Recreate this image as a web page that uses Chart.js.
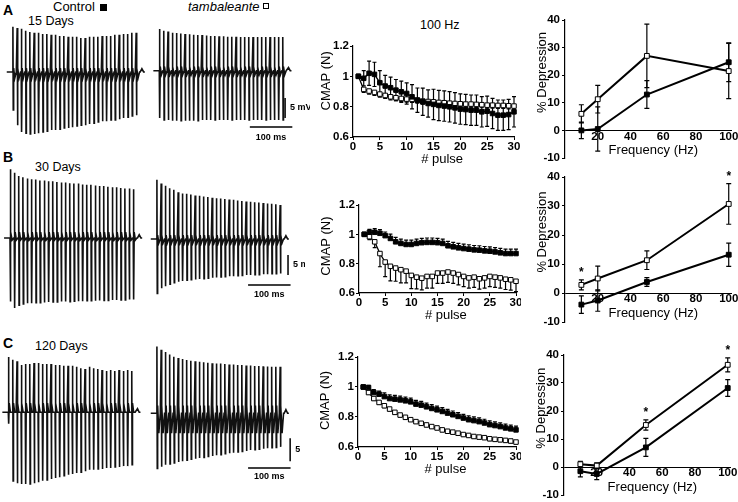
<!DOCTYPE html>
<html>
<head>
<meta charset="utf-8">
<script src="https://cdn.jsdelivr.net/npm/chart.js@4.4.1/dist/chart.umd.min.js"></script>
<style>
  body { margin: 0; background: #fff; }
  #fig { position: relative; width: 738px; height: 502px; overflow: hidden; background: #fff;
         font-family: "Liberation Sans", Arial, sans-serif; color: #000; }
  #fig canvas { position: absolute; }
  .lbl { position: absolute; white-space: nowrap; line-height: 1; }
  .panel { font-size: 14px; font-weight: bold; }
  .head { font-size: 13px; }
  .sub { font-size: 12.5px; }
  .sq { position: absolute; width: 7px; height: 7px; background: #000; }
  .sq.open { background: #fff; border: 1px solid #000; width: 4px; height: 4px; }
</style>
</head>
<body>
<div id="fig">
  <div class="lbl panel" style="left:3px;top:3px">A</div>
  <div class="lbl panel" style="left:3px;top:150px">B</div>
  <div class="lbl panel" style="left:3px;top:336px">C</div>
  <div class="lbl head" style="left:53px;top:0px">Control</div>
  <div class="sq" style="left:100px;top:4px"></div>
  <div class="lbl head" style="left:188px;top:0px;font-style:italic">tambaleante</div>
  <div class="sq open" style="left:263px;top:3px"></div>
  <div class="lbl sub" style="left:28px;top:15px">15 Days</div>
  <div class="lbl sub" style="left:35px;top:161px">30 Days</div>
  <div class="lbl sub" style="left:35px;top:340px">120 Days</div>
  <div class="lbl sub" style="left:420px;top:19px">100 Hz</div>
</div>
<script>
'use strict';

// ---- data ----
var pulses = [1, 2, 3, 4, 5, 6, 7, 8, 9, 10, 11, 12, 13, 14, 15, 16, 17, 18, 19, 20, 21, 22, 23, 24, 25, 26, 27, 28, 29, 30];
var pulseTicks = [0, 5, 10, 15, 20, 25, 30];
var cmapTicks = [0.6, 0.8, 1, 1.2];
var freqs = [10, 20, 50, 100];
var freqTicks = [20, 40, 60, 80, 100];
var depTicks = [-10, 0, 10, 20, 30, 40];

// CMAP (normalised) at 100 Hz
var cmapCtrlA = [1.0, 0.987, 1.02, 1.013, 0.958, 0.936, 0.925, 0.909, 0.898, 0.887, 0.865, 0.843, 0.832, 0.821, 0.815, 0.808, 0.804, 0.799, 0.792, 0.784, 0.781, 0.777, 0.777, 0.766, 0.770, 0.755, 0.744, 0.744, 0.748, 0.766];
var cmapTambA = [1.0, 0.914, 0.903, 0.894, 0.883, 0.874, 0.865, 0.859, 0.854, 0.850, 0.848, 0.843, 0.837, 0.834, 0.832, 0.828, 0.826, 0.823, 0.821, 0.819, 0.817, 0.817, 0.815, 0.813, 0.810, 0.810, 0.808, 0.808, 0.806, 0.804];
var errCtrlA = [0, 0.05, 0.08, 0.08, 0.08, 0.07, 0.07, 0.07, 0.07, 0.07, 0.08, 0.08, 0.09, 0.09, 0.1, 0.1, 0.1, 0.1, 0.1, 0.1, 0.1, 0.1, 0.1, 0.1, 0.1, 0.1, 0.1, 0.1, 0.1, 0.1];
var errTambA = [0, 0.02, 0.02, 0.02, 0.02, 0.02, 0.02, 0.02, 0.02, 0.02, 0.02, 0.02, 0.02, 0.02, 0.02, 0.02, 0.02, 0.02, 0.02, 0.02, 0.02, 0.02, 0.02, 0.02, 0.02, 0.02, 0.02, 0.02, 0.02, 0.02];

var cmapCtrlB = [1.0, 1.014, 1.014, 1.007, 0.991, 0.972, 0.949, 0.938, 0.931, 0.931, 0.938, 0.943, 0.945, 0.945, 0.943, 0.938, 0.922, 0.915, 0.908, 0.903, 0.899, 0.894, 0.892, 0.887, 0.885, 0.880, 0.874, 0.869, 0.869, 0.869];
var cmapTambB = [1.0, 0.984, 0.949, 0.869, 0.811, 0.782, 0.770, 0.759, 0.749, 0.720, 0.708, 0.701, 0.713, 0.713, 0.736, 0.736, 0.743, 0.736, 0.726, 0.713, 0.703, 0.708, 0.697, 0.703, 0.713, 0.708, 0.703, 0.694, 0.690, 0.680];
var errCtrlB = [0, 0.02, 0.025, 0.025, 0.025, 0.03, 0.03, 0.03, 0.03, 0.03, 0.03, 0.03, 0.03, 0.03, 0.03, 0.03, 0.03, 0.03, 0.03, 0.03, 0.03, 0.03, 0.03, 0.03, 0.03, 0.03, 0.03, 0.03, 0.03, 0.03];
var errTambB = [0, 0.02, 0.04, 0.09, 0.1, 0.1, 0.09, 0.09, 0.08, 0.09, 0.08, 0.08, 0.08, 0.08, 0.07, 0.07, 0.07, 0.07, 0.07, 0.07, 0.07, 0.07, 0.07, 0.07, 0.07, 0.07, 0.07, 0.07, 0.07, 0.07];

var cmapCtrlC = [1.0, 0.996, 0.963, 0.952, 0.936, 0.923, 0.919, 0.914, 0.908, 0.901, 0.886, 0.879, 0.868, 0.857, 0.848, 0.837, 0.826, 0.815, 0.804, 0.793, 0.782, 0.776, 0.769, 0.760, 0.749, 0.743, 0.736, 0.727, 0.721, 0.714];
var cmapTambC = [1.0, 0.963, 0.923, 0.897, 0.875, 0.853, 0.831, 0.813, 0.798, 0.782, 0.769, 0.758, 0.747, 0.736, 0.727, 0.714, 0.705, 0.699, 0.692, 0.683, 0.677, 0.670, 0.666, 0.662, 0.655, 0.651, 0.648, 0.644, 0.640, 0.633];
var errCtrlC = [0, 0.015, 0.02, 0.02, 0.025, 0.025, 0.025, 0.025, 0.025, 0.025, 0.025, 0.025, 0.025, 0.025, 0.025, 0.025, 0.025, 0.025, 0.025, 0.025, 0.025, 0.025, 0.025, 0.025, 0.025, 0.025, 0.025, 0.025, 0.025, 0.025];
var errTambC = [0, 0.01, 0.012, 0.012, 0.012, 0.012, 0.012, 0.012, 0.012, 0.012, 0.012, 0.012, 0.012, 0.012, 0.012, 0.012, 0.012, 0.012, 0.012, 0.012, 0.012, 0.012, 0.012, 0.012, 0.012, 0.012, 0.012, 0.012, 0.012, 0.012];

// % depression vs frequency
var depCtrlA = [0, 0.5, 13, 24.7];
var depTambA = [6, 11.3, 27, 21.5];
var errDepCtrlA = [3, 8, 5, 7];
var errDepTambA = [3.3, 5, 11.5, 10];
var depCtrlB = [-4, -2.6, 3.8, 13.2];
var depTambB = [2.8, 5, 11.3, 30.7];
var errDepCtrlB = [3, 3.7, 1.5, 4];
var errDepTambB = [1.7, 4.3, 3.2, 7];
var depCtrlC = [-1.5, -2.5, 7, 28.2];
var depTambC = [1, 0.5, 15, 36.5];
var errDepCtrlC = [2, 2, 3.2, 3];
var errDepTambC = [1, 1, 1.8, 2.5];
var sigA = [];
var sigB = [10, 100];
var sigC = [50, 100];

// spike trains: peak (mV above baseline) and trough of each of the 30 responses
var topCtrlA = [11.3, 11.0, 10.8, 10.3, 10.0, 9.8, 9.8, 9.5, 9.5, 9.3, 9.3, 9.0, 9.0, 8.8, 8.8, 8.8, 8.5, 8.5, 8.8, 8.8, 8.8, 9.0, 9.0, 9.0, 9.3, 9.3, 9.5, 9.5, 9.8, 9.8];
var botCtrlA = [-9.5, -13.3, -15.0, -15.3, -15.5, -15.5, -15.3, -15.0, -14.8, -14.5, -14.5, -14.3, -14.0, -14.0, -13.8, -13.5, -13.3, -13.3, -13.0, -12.8, -12.5, -12.3, -12.3, -12.0, -12.0, -11.8, -11.5, -11.3, -11.0, -10.8];
var topTambA = [10.4, 10.0, 9.8, 9.5, 9.4, 9.3, 9.2, 9.1, 9.0, 8.9, 8.9, 8.8, 8.7, 8.7, 8.6, 8.6, 8.5, 8.5, 8.5, 8.4, 8.4, 8.4, 8.4, 8.4, 8.4, 8.4, 8.4, 8.4, 8.4, 8.4];
var botTambA = [-11.8, -12.3, -12.3, -12.5, -12.5, -12.5, -12.5, -12.5, -12.5, -12.5, -12.3, -12.3, -12.3, -12.3, -12.3, -12.3, -12.3, -12.3, -12.3, -12.3, -12.3, -12.3, -12.3, -12.3, -12.3, -12.3, -12.3, -12.3, -12.3, -12.3];
var topCtrlB = [17.2, 16.3, 15.5, 15.2, 14.9, 14.7, 14.6, 14.4, 14.4, 14.2, 14.2, 14.0, 13.9, 13.9, 13.7, 13.6, 13.6, 13.4, 13.3, 13.3, 13.1, 13.0, 13.0, 12.8, 12.7, 12.7, 12.5, 12.4, 12.4, 12.2];
var botCtrlB = [-15.9, -17.5, -16.8, -16.5, -16.3, -16.3, -16.2, -16.2, -16.1, -16.0, -16.0, -16.0, -15.9, -15.9, -15.9, -15.8, -15.8, -15.8, -15.7, -15.7, -15.7, -15.6, -15.6, -15.6, -15.5, -15.5, -15.5, -15.5, -15.4, -15.4];
var topTambB = [14.8, 13.9, 13.3, 12.7, 12.3, 11.7, 11.4, 11.3, 11.1, 10.9, 10.8, 10.6, 10.5, 10.3, 10.2, 10.1, 10.0, 9.9, 9.8, 9.6, 9.5, 9.4, 9.3, 9.2, 9.1, 9.0, 8.9, 8.8, 8.7, 8.5];
var botTambB = [-13.6, -12.3, -11.8, -11.3, -10.9, -10.7, -10.5, -10.3, -10.2, -10.1, -10.0, -9.9, -9.8, -9.7, -9.6, -9.5, -9.4, -9.3, -9.3, -9.2, -9.1, -9.0, -9.0, -8.9, -8.9, -8.8, -8.8, -8.7, -8.7, -8.6];
var topCtrlC = [12.0, 11.4, 11.1, 10.3, 10.5, 10.5, 10.7, 10.7, 10.5, 10.5, 10.5, 10.3, 10.3, 10.1, 10.1, 10.1, 9.9, 9.6, 9.4, 9.9, 9.6, 9.4, 9.2, 9.0, 9.2, 9.0, 9.2, 9.0, 9.2, 9.0];
var botCtrlC = [-2.5, -14.9, -15.4, -15.6, -15.6, -15.6, -15.4, -15.2, -14.9, -14.7, -14.5, -14.3, -14.1, -13.8, -13.6, -13.4, -13.2, -13.0, -12.8, -12.5, -12.5, -12.3, -12.3, -12.1, -12.1, -11.9, -11.9, -11.7, -11.7, -11.4];
var topTambC = [14.5, 13.8, 13.3, 12.8, 12.3, 12.0, 11.8, 11.6, 11.4, 11.3, 11.2, 11.1, 11.0, 10.9, 10.8, 10.8, 10.7, 10.6, 10.6, 10.5, 10.5, 10.4, 10.4, 10.3, 10.3, 10.2, 10.2, 10.1, 10.1, 10.1];
var botTambC = [-12.0, -11.6, -11.2, -11.0, -10.8, -10.6, -10.4, -10.2, -10.0, -9.9, -9.7, -9.6, -9.4, -9.3, -9.1, -9.0, -8.8, -8.7, -8.6, -8.4, -8.3, -8.2, -8.0, -7.9, -7.8, -7.7, -7.6, -7.5, -7.4, -7.3];
// after-potential ringing between spikes [high, low] in mV
var ringCtrlA = [1, -1.5];
var ringTambA = [1, -1];
var ringCtrlB = [1.5, -0.5];
var ringTambB = [1, -1];
var ringCtrlC = [2, 0];
var ringTambC = [1.7, -4.3];
var spikeInterval = 10; // ms, 100 Hz

// ---- drawing ----
Chart.defaults.font.family = '"Liberation Sans", Arial, sans-serif';
Chart.defaults.color = '#000';

var fig = document.getElementById('fig');
var tickFont = { size: 11.5, weight: 'bold' };
var titleFont = '13px "Liberation Sans", Arial, sans-serif';

var makeCanvas = function(box) {
  var c = document.createElement('canvas');
  c.width = box.width;
  c.height = box.height;
  c.style.left = box.left + 'px';
  c.style.top = box.top + 'px';
  c.style.width = box.width + 'px';
  c.style.height = box.height + 'px';
  fig.appendChild(c);
  return c.getContext('2d');
};

var errorBars = {
  id: 'errorBars',
  beforeDatasetsDraw: function(chart, args, opts) {
    var ctx = chart.ctx;
    var ys = chart.scales.y;
    chart.data.datasets.forEach(function(ds, i) {
      if (!ds.errors) return;
      var meta = chart.getDatasetMeta(i);
      ctx.save();
      ctx.strokeStyle = '#000';
      ctx.lineWidth = opts.width;
      meta.data.forEach(function(pt, j) {
        var e = ds.errors[j];
        if (!e) return;
        var v = ds.data[j].y;
        var top = ys.getPixelForValue(ds.errDir === 'down' ? v : v + e);
        var bot = ys.getPixelForValue(ds.errDir === 'up' ? v : v - e);
        ctx.beginPath();
        ctx.moveTo(pt.x, top);
        ctx.lineTo(pt.x, bot);
        if (ds.errDir !== 'down') {
          ctx.moveTo(pt.x - opts.cap, top);
          ctx.lineTo(pt.x + opts.cap, top);
        }
        if (ds.errDir !== 'up') {
          ctx.moveTo(pt.x - opts.cap, bot);
          ctx.lineTo(pt.x + opts.cap, bot);
        }
        ctx.stroke();
      });
      ctx.restore();
    });
  }
};

var stars = {
  id: 'stars',
  afterDatasetsDraw: function(chart) {
    var ctx = chart.ctx;
    chart.data.datasets.forEach(function(ds) {
      if (!ds.stars) return;
      ctx.save();
      ctx.font = 'bold 12px "Liberation Sans", Arial, sans-serif';
      ctx.textAlign = 'center';
      ctx.textBaseline = 'middle';
      ctx.fillStyle = '#000';
      ds.stars.forEach(function(f) {
        var j = freqs.indexOf(f);
        var x = chart.scales.x.getPixelForValue(f);
        var y = chart.scales.y.getPixelForValue(ds.data[j].y + ds.errors[j]);
        ctx.fillText('*', x, y - 7);
      });
      ctx.restore();
    });
  }
};

var axisTitles = {
  id: 'axisTitles',
  afterDraw: function(chart, args, opts) {
    var ctx = chart.ctx;
    var xs = chart.scales.x;
    var ys = chart.scales.y;
    ctx.save();
    ctx.fillStyle = '#000';
    ctx.font = titleFont;
    ctx.textAlign = 'center';
    ctx.textBaseline = 'middle';
    ctx.fillText(opts.xText, xs.getPixelForValue(opts.xAt), ys.getPixelForValue(opts.xBase) + opts.xDy);
    ctx.translate(chart.chartArea.left - opts.yDx, ys.getPixelForValue(opts.yAt));
    ctx.rotate(-Math.PI / 2);
    ctx.fillText(opts.yText, 0, 0);
    ctx.restore();
  }
};

var scaleBar = {
  id: 'scaleBar',
  afterDraw: function(chart, args, o) {
    if (o.vT === undefined) return;
    var ctx = chart.ctx;
    var xs = chart.scales.x;
    var ys = chart.scales.y;
    var vx = xs.getPixelForValue(o.vT);
    var vy1 = ys.getPixelForValue(o.vV);
    var vy2 = ys.getPixelForValue(o.vV - 5);
    var hx1 = xs.getPixelForValue(o.hT);
    var hx2 = xs.getPixelForValue(o.hT + 100);
    var hy = ys.getPixelForValue(o.hV);
    ctx.save();
    ctx.strokeStyle = '#000';
    ctx.lineWidth = 1.5;
    ctx.beginPath();
    ctx.moveTo(vx, vy1);
    ctx.lineTo(vx, vy2);
    ctx.moveTo(hx1, hy);
    ctx.lineTo(hx2, hy);
    ctx.stroke();
    ctx.fillStyle = '#000';
    ctx.font = 'bold 9px "Liberation Sans", Arial, sans-serif';
    ctx.textBaseline = 'middle';
    ctx.textAlign = 'left';
    ctx.fillText('5 mV', vx + 5, (vy1 + vy2) / 2);
    ctx.textAlign = 'center';
    ctx.fillText('100 ms', (hx1 + hx2) / 2, hy + o.textDy);
    ctx.restore();
  }
};

var traceChart = function(box, tops, bots, ring, bar) {
  var ctx = makeCanvas(box);
  var pts = [{x: -14, y: 0}];
  for (var i = 0; i < tops.length; i++) {
    var t = i * spikeInterval;
    pts.push({x: t, y: 0}, {x: t + 0.5, y: tops[i]}, {x: t + 1.3, y: bots[i]},
      {x: t + 2.2, y: ring[0]}, {x: t + 5, y: ring[1]}, {x: t + 8.5, y: 0});
  }
  var tEnd = tops.length * spikeInterval;
  pts.push({x: tEnd, y: 0}, {x: tEnd + 4, y: 0.8}, {x: tEnd + 8, y: 0}, {x: tEnd + 11, y: 0});
  var pxPerMs = 0.425;
  var xmin = -(box.firstX - box.left) / pxPerMs;
  var xmax = xmin + box.width / pxPerMs;
  var ymax = (box.baseY - box.top) / box.pxPerMv;
  var ymin = ymax - box.height / box.pxPerMv;
  new Chart(ctx, {
    type: 'line',
    data: { datasets: [{ data: pts, borderColor: '#111', borderWidth: 1.6, pointRadius: 0, tension: 0, clip: false }] },
    options: {
      responsive: false, animation: false, devicePixelRatio: 1,
      layout: { padding: 0 },
      events: [],
      plugins: { legend: { display: false }, tooltip: { enabled: false }, scaleBar: bar || {} },
      scales: {
        x: { type: 'linear', display: false, min: xmin, max: xmax },
        y: { type: 'linear', display: false, min: ymin, max: ymax }
      }
    },
    plugins: [scaleBar]
  });
};

var series = function(xs, vals, errs, dir, fill, radius, lineWidth, sig) {
  return {
    data: xs.map(function(x, i) { return {x: x, y: vals[i]}; }),
    errors: errs,
    errDir: dir,
    stars: sig,
    borderColor: '#000',
    borderWidth: lineWidth,
    pointStyle: 'rect',
    pointRadius: radius,
    pointBackgroundColor: fill,
    pointBorderColor: '#000',
    pointBorderWidth: 1,
    tension: 0,
    clip: false
  };
};

var axisOpts = function(min, max, ticks, size, horizontal, tickLen, pad) {
  return {
    type: 'linear', min: min, max: max,
    afterBuildTicks: function(scale) {
      scale.ticks = ticks.map(function(v) { return {value: v}; });
    },
    afterFit: function(scale) {
      if (horizontal) {
        scale.height = size;
        scale.paddingLeft = 0;
        scale.paddingRight = 0;
      } else {
        scale.width = size;
        scale.paddingTop = 0;
        scale.paddingBottom = 0;
      }
    },
    ticks: { font: tickFont, color: '#000', padding: pad, autoSkip: false, maxRotation: 0,
      callback: function(v) { return String(Math.round(v * 10) / 10); } },
    grid: { display: tickLen > 0, drawOnChartArea: false, drawTicks: tickLen > 0, tickLength: tickLen, color: '#000', lineWidth: 1 },
    border: { display: true, color: '#000', width: 1.2 }
  };
};

var cmapChart = function(box, ctrl, tamb, errCtrl, errTamb, dirCtrl, dirTamb, yAt, yDx) {
  var ctx = makeCanvas(box);
  new Chart(ctx, {
    type: 'line',
    data: { datasets: [
      series(pulses, ctrl, errCtrl, dirCtrl, '#000', 3.2, 1.3),
      series(pulses, tamb, errTamb, dirTamb, '#fff', 3.2, 1.3)
    ] },
    options: {
      responsive: false, animation: false, devicePixelRatio: 1, events: [],
      layout: { padding: { top: box.areaTop - box.top, right: box.left + box.width - box.areaRight, left: 0, bottom: 0 } },
      plugins: {
        legend: { display: false }, tooltip: { enabled: false },
        errorBars: { cap: 2, width: 1.2 },
        axisTitles: { xText: '# pulse', xAt: 16.6, xBase: 0.6, xDy: 22, yText: 'CMAP (N)', yAt: yAt, yDx: yDx }
      },
      scales: {
        x: axisOpts(0, 30, pulseTicks, box.top + box.height - box.areaBottom, true, 3, 0),
        y: axisOpts(0.6, 1.2, cmapTicks, box.areaLeft - box.left, false, 3, 1)
      }
    },
    plugins: [errorBars, axisTitles]
  });
};

var depChart = function(box, ctrl, tamb, errCtrl, errTamb, sig) {
  var ctx = makeCanvas(box);
  // x labels hang just under the zero line, one 10 % step above the bottom of the axis
  var step = (box.areaBottom - box.areaTop) / 5;
  var yAxis = axisOpts(-10, 40, depTicks, box.areaLeft - box.left, false, 3, 2);
  yAxis.grid = {
    display: true, drawOnChartArea: true, drawTicks: true, tickLength: 3, tickColor: '#000', lineWidth: 1,
    color: function(c) { return c.tick && c.tick.value === 0 ? '#000' : 'rgba(0,0,0,0)'; }
  };
  var xAxis = axisOpts(0, 102, freqTicks, box.top + box.height - box.areaBottom, true, 0, step - 13);
  xAxis.ticks.mirror = true;
  xAxis.border = { display: false };
  new Chart(ctx, {
    type: 'line',
    data: { datasets: [
      series(freqs, ctrl, errCtrl, 'both', '#000', 3.4, 2),
      series(freqs, tamb, errTamb, 'both', '#fff', 3.4, 2, sig)
    ] },
    options: {
      responsive: false, animation: false, devicePixelRatio: 1, events: [],
      layout: { padding: { top: box.areaTop - box.top, right: box.left + box.width - box.areaRight, left: 0, bottom: 0 } },
      plugins: {
        legend: { display: false }, tooltip: { enabled: false },
        errorBars: { cap: 2.5, width: 1.2 },
        axisTitles: { xText: 'Frequency (Hz)', xAt: 54, xBase: 0, xDy: 20, yText: '% Depression', yAt: 21, yDx: 23 }
      },
      scales: { x: xAxis, y: yAxis }
    },
    plugins: [errorBars, stars, axisTitles]
  });
};

// row A
traceChart({left: 2, top: 0, width: 148, height: 150, firstX: 12.7, baseY: 72, pxPerMv: 4}, topCtrlA, botCtrlA, ringCtrlA);
traceChart({left: 150, top: 0, width: 160, height: 150, firstX: 159.3, baseY: 70.7, pxPerMv: 4}, topTambA, botTambA, ringTambA,
  {vT: 296, vV: -6.8, hT: 213, hV: -14.1, textDy: 10});
cmapChart({left: 308, top: 34, width: 213, height: 139, areaLeft: 353, areaTop: 46, areaBottom: 137, areaRight: 514},
  cmapCtrlA, cmapTambA, errCtrlA, errTambA, 'both', 'down', 0.97, 27);
depChart({left: 520, top: 8, width: 218, height: 178, areaLeft: 565, areaTop: 20, areaBottom: 158, areaRight: 732},
  depCtrlA, depTambA, errDepCtrlA, errDepTambA, sigA);

// row B
traceChart({left: 0, top: 160, width: 150, height: 160, firstX: 10, baseY: 238, pxPerMv: 4}, topCtrlB, botCtrlB, ringCtrlB);
traceChart({left: 148, top: 160, width: 157, height: 160, firstX: 156.7, baseY: 239, pxPerMv: 4}, topTambB, botTambB, ringTambB,
  {vT: 309, vV: -4, hT: 215, hV: -11.5, textDy: 10});
cmapChart({left: 314, top: 193, width: 207, height: 136, areaLeft: 359, areaTop: 205, areaBottom: 293, areaRight: 519},
  cmapCtrlB, cmapTambB, errCtrlB, errTambB, 'up', 'down', 0.92, 33);
depChart({left: 520, top: 165, width: 218, height: 185, areaLeft: 565, areaTop: 177, areaBottom: 322, areaRight: 732},
  depCtrlB, depTambB, errDepCtrlB, errDepTambB, sigB);

// row C
traceChart({left: 0, top: 330, width: 150, height: 172, firstX: 8.3, baseY: 412.3, pxPerMv: 4.6}, topCtrlC, botCtrlC, ringCtrlC);
traceChart({left: 148, top: 330, width: 155, height: 172, firstX: 156.7, baseY: 413.3, pxPerMv: 4.6}, topTambC, botTambC, ringTambC,
  {vT: 314, vV: -5.4, hT: 215, hV: -11.9, textDy: 8});
cmapChart({left: 313, top: 345, width: 208, height: 138, areaLeft: 358, areaTop: 357, areaBottom: 447, areaRight: 519},
  cmapCtrlC, cmapTambC, errCtrlC, errTambC, 'up', 'down', 0.91, 33);
depChart({left: 520, top: 343, width: 218, height: 180, areaLeft: 564, areaTop: 355, areaBottom: 495, areaRight: 731},
  depCtrlC, depTambC, errDepCtrlC, errDepTambC, sigC);
</script>
</body>
</html>
